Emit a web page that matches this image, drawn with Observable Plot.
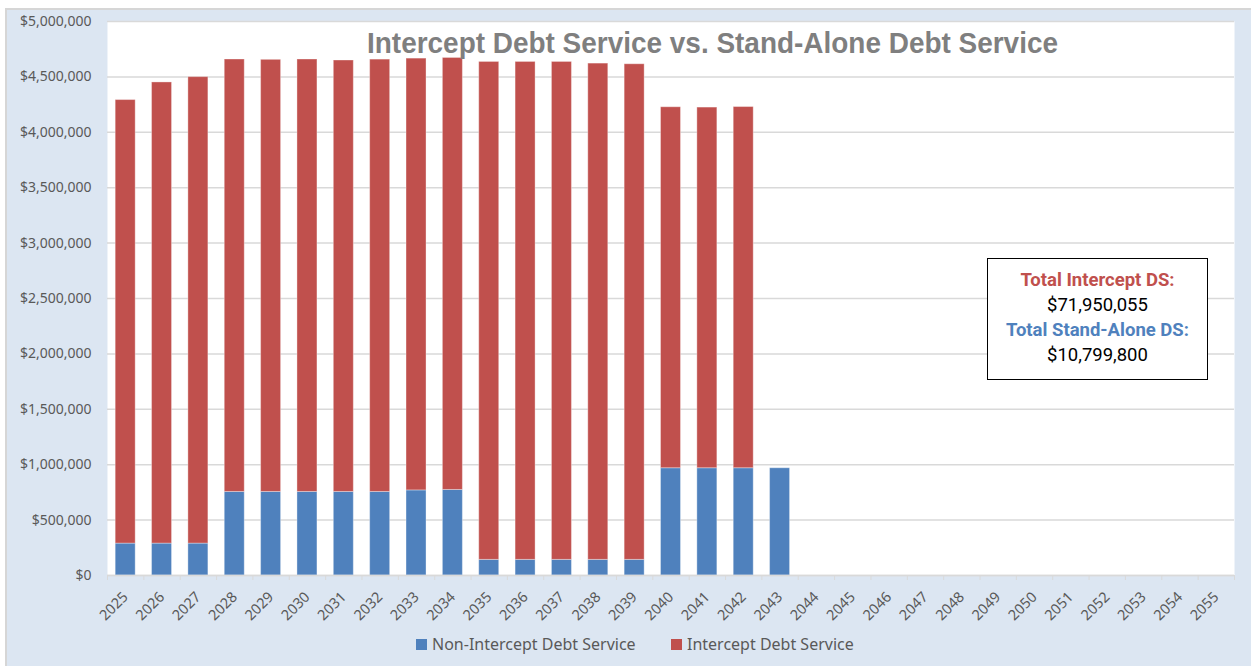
<!DOCTYPE html>
<html><head><meta charset="utf-8">
<script src="https://cdn.jsdelivr.net/npm/d3@7"></script>
<script src="https://cdn.jsdelivr.net/npm/@observablehq/plot@0.6"></script>
<style>
body{margin:0;background:#fff;}
#wrap{position:relative;width:1251px;height:666px;overflow:hidden;}
#bg{position:absolute;left:5px;top:8px;width:1250px;height:662px;background:#dce6f2;border-left:2px solid #d6d6d6;border-top:2px solid #d6d6d6;box-sizing:border-box;}
#chart{position:absolute;left:0;top:0;}
#title{position:absolute;top:29px;left:367px;font:bold 29px "Liberation Sans",Arial,sans-serif;line-height:1;color:#7f7f7f;white-space:nowrap;transform-origin:0 0;}
#box{position:absolute;left:987px;top:258px;width:221px;height:122px;box-sizing:border-box;border:1.5px solid #000;background:#fff;text-align:center;font:18.5px Roboto,sans-serif;line-height:25px;padding-top:9px;color:#000;}
#box .r{color:#c0504d;font-weight:bold;}
#box .b{color:#4f81bd;font-weight:bold;}
.leg{position:absolute;top:635px;display:flex;align-items:center;font:16px "Noto Sans",sans-serif;color:#595959;white-space:nowrap;height:18px;}
.leg span.sw{display:inline-block;width:11px;height:11px;margin-right:5px;}
</style></head>
<body>
<div id="wrap">
  <div id="bg"></div>
  <div id="chart"></div>
  <div id="title">Intercept Debt Service vs. Stand-Alone Debt Service</div>
  <div id="box">
    <div class="r">Total Intercept DS:</div>
    <div>$71,950,055</div>
    <div class="b">Total Stand-Alone DS:</div>
    <div>$10,799,800</div>
  </div>
  <div class="leg" id="leg1"></div>
  <div class="leg" id="leg2"></div>
</div>
<script>
const years = ["2025","2026","2027","2028","2029","2030","2031","2032","2033","2034","2035","2036","2037","2038","2039","2040","2041","2042","2043","2044","2045","2046","2047","2048","2049","2050","2051","2052","2053","2054","2055"];
const nonIntercept = [288000,288000,288000,754000,754000,754000,754000,754000,768000,772000,141000,141000,141000,141000,141000,968000,968000,968000,968000,0,0,0,0,0,0,0,0,0,0,0,0];
const intercept = [4003000,4162000,4210000,3903000,3900000,3903000,3894000,3902000,3897000,3899000,4494000,4494000,4494000,4479000,4473000,3258000,3255000,3260000,0,0,0,0,0,0,0,0,0,0,0,0,0];
const seriesNames = ["Non-Intercept Debt Service","Intercept Debt Service"];
const seriesColors = ["#4f81bd","#c0504d"];
const yTicks = [0,500000,1000000,1500000,2000000,2500000,3000000,3500000,4000000,4500000,5000000];

const data = [];
years.forEach((yr,i)=>{
  data.push({year:yr, series:seriesNames[0], value:nonIntercept[i]});
  data.push({year:yr, series:seriesNames[1], value:intercept[i]});
});
const barsData = data.filter(d=>d.value>0);

const W = 1251, H = 625, mL = 107, mR = 17, mT = 21, mB = 50;
const step = (W - mL - mR) / years.length;

const chart = Plot.plot({
  width: W, height: H,
  marginLeft: mL, marginRight: mR, marginTop: mT, marginBottom: mB,
  style: {fontFamily:"'Noto Sans', sans-serif", fontSize:"14px", color:"#595959", background:"transparent", overflow:"visible"},
  x: {domain: years, paddingInner: 0.45, paddingOuter: 0.225, round: false, label: null},
  y: {domain: [0, 5000000], label: null},
  color: {domain: seriesNames, range: seriesColors},
  marks: [
    Plot.frame({fill:"white", stroke:"none"}),
    Plot.ruleY(yTicks, {stroke:"#d9d9d9", strokeWidth:1.5}),
    Plot.axisY({ticks: yTicks, tickSize: 0, tickPadding: 16, tickFormat: d3.format("$,"), fontSize: 14}),
    Plot.barY(barsData, {x:"year", y:"value", fill:"series", stroke:"white", strokeOpacity:0.35, strokeWidth:1}),
    Plot.ruleY([0], {stroke:"#d9d9d9", strokeWidth:1.5}),
    Plot.axisX({ticks: years, tickSize: 5, dx: -step/2, tickFormat: () => "", stroke:"#d9d9d9"}),
    Plot.axisX({ticks: [years[years.length-1]], tickSize: 5, dx: step/2, tickFormat: () => "", stroke:"#d9d9d9"}),
    Plot.axisX({tickSize: 0, tickRotate: -45, tickPadding: 19, fontSize: 14.5})
  ]
});
document.getElementById("chart").appendChild(chart);

// legend
[["leg1",0,416],["leg2",1,671]].forEach(([id,i,left])=>{
  const el = document.getElementById(id);
  el.style.left = left + "px";
  el.innerHTML = `<span class="sw" style="background:${seriesColors[i]}"></span><span>${seriesNames[i]}</span>`;
});

// title width fit
const t = document.getElementById("title");
const tw = t.getBoundingClientRect().width;
t.style.transform = `scaleX(${691/tw})`;
</script>
</body></html>
